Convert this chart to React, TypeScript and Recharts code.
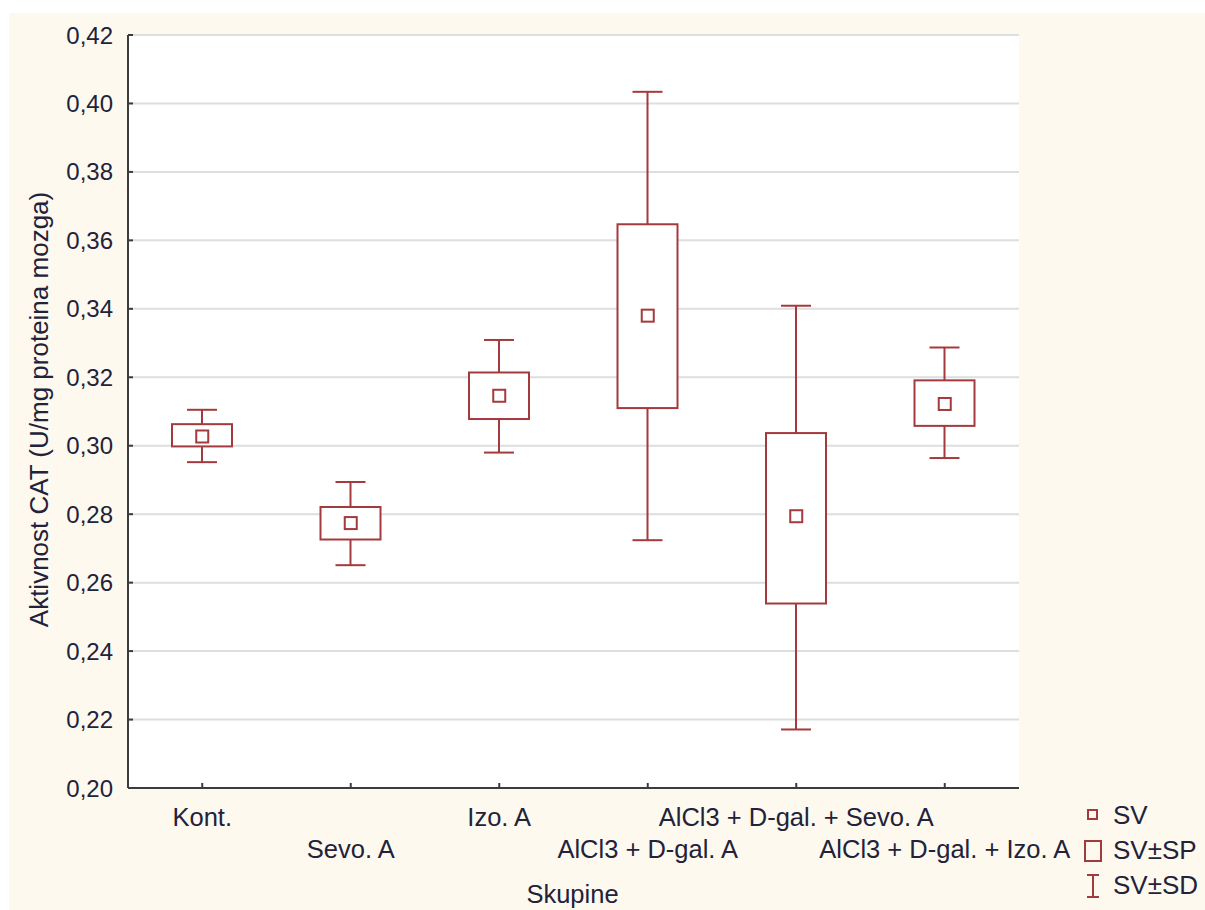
import { ComposedChart, Bar, Line, XAxis, YAxis, CartesianGrid } from "recharts";

const groups = [
  "Kont.",
  "Sevo. A",
  "Izo. A",
  "AlCl3 + D-gal. A",
  "AlCl3 + D-gal. + Sevo. A",
  "AlCl3 + D-gal. + Izo. A",
];
const means = [0.3027, 0.2774, 0.3146, 0.338, 0.2794, 0.3122];
const seLow = [0.2998, 0.2726, 0.3078, 0.311, 0.2539, 0.3058];
const seHigh = [0.3063, 0.2821, 0.3214, 0.3647, 0.3037, 0.3191];
const sdLow = [0.2952, 0.2651, 0.298, 0.2724, 0.2171, 0.2964];
const sdHigh = [0.3105, 0.2894, 0.3309, 0.4034, 0.3409, 0.3287];
const yTicks = [0.2, 0.22, 0.24, 0.26, 0.28, 0.3, 0.32, 0.34, 0.36, 0.38, 0.4, 0.42];

const data = groups.map((name, i) => ({
  name,
  mean: means[i],
  se: [seLow[i], seHigh[i]],
  sd: [sdLow[i], sdHigh[i]],
}));

const RED = "#a33a3d";
const AXIS = "#3c3c3c";
const TEXT = "#22223a";
const FONT = "'Liberation Sans', Arial, sans-serif";

const YTick = ({ x, y, payload }: any) => (
  <g>
    <line x1={x} x2={x + 5} y1={y} y2={y} stroke={AXIS} strokeWidth={2} />
    <text x={x - 15} y={y} textAnchor="end" dominantBaseline="central" fontSize={24} fill={TEXT} fontFamily={FONT}>
      {payload.value.toFixed(2).replace(".", ",")}
    </text>
  </g>
);

const XTick = ({ x, y, payload, index }: any) => (
  <g>
    <line x1={x} x2={x} y1={y} y2={y - 5} stroke={AXIS} strokeWidth={2} />
    <text x={x} y={y + (index % 2 === 0 ? 38 : 70)} textAnchor="middle" fontSize={25.5} fill={TEXT} fontFamily={FONT}>
      {payload.value}
    </text>
  </g>
);

const TopTick = ({ x, y }: any) => <line x1={x} x2={x} y1={y} y2={y + 5} stroke={AXIS} strokeWidth={2} />;

const Whisker = ({ x, y, width, height }: any) => {
  const cx = x + width / 2;
  return (
    <g stroke={RED} strokeWidth={2}>
      <line x1={cx} x2={cx} y1={y} y2={y + height} />
      <line x1={x} x2={x + width} y1={y} y2={y} />
      <line x1={x} x2={x + width} y1={y + height} y2={y + height} />
    </g>
  );
};

const Box = ({ x, y, width, height }: any) => (
  <rect x={x} y={y} width={width} height={height} fill="#fff" stroke={RED} strokeWidth={2} />
);

const MeanDot = ({ cx, cy, index }: any) => (
  <rect key={index} x={cx - 6} y={cy - 6} width={12} height={12} fill="#fff" stroke={RED} strokeWidth={2} />
);

const YLabel = ({ viewBox }: any) => {
  const cx = 30;
  const cy = viewBox.y + viewBox.height / 2 - 2;
  return (
    <text
      x={cx}
      y={cy}
      transform={`rotate(-90, ${cx}, ${cy})`}
      textAnchor="middle"
      dominantBaseline="central"
      fontSize={26}
      fill={TEXT}
      fontFamily={FONT}
    >
      Aktivnost CAT (U/mg proteina mozga)
    </text>
  );
};

export default function App() {
  return (
    <div style={{ position: "absolute", left: 0, top: 0, width: 1205, height: 910, background: "#fff" }}>
      <div style={{ position: "absolute", left: 9, top: 13, width: 1196, height: 897, background: "#fdf9ef" }}>
        <ComposedChart width={1196} height={897} data={data} margin={{ top: 22, right: 186, bottom: 92, left: 49 }}>
          <CartesianGrid xAxisId="main" vertical={false} stroke="#dedede" strokeWidth={2} fill="#fff" />
          <XAxis
            xAxisId="main"
            dataKey="name"
            interval={0}
            height={30}
            tickSize={0}
            tickMargin={0}
            tickLine={false}
            axisLine={{ stroke: AXIS, strokeWidth: 2 }}
            tick={<XTick />}
          />
          <XAxis xAxisId="whisk" dataKey="name" hide />
          <XAxis
            xAxisId="top"
            dataKey="name"
            orientation="top"
            height={0}
            interval={0}
            tickSize={0}
            tickMargin={0}
            tickLine={false}
            axisLine={{ stroke: AXIS, strokeWidth: 2 }}
            tick={<TopTick />}
          />
          <YAxis
            domain={[0.2, 0.42]}
            ticks={yTicks}
            width={70}
            tickSize={0}
            tickMargin={0}
            tickLine={false}
            axisLine={{ stroke: AXIS, strokeWidth: 2 }}
            tick={<YTick />}
            label={{ content: <YLabel /> }}
          />
          <YAxis
            yAxisId="right"
            orientation="right"
            domain={[0.2, 0.42]}
            width={0}
            tick={false}
            tickLine={false}
            axisLine={{ stroke: AXIS, strokeWidth: 2 }}
          />
          <Bar xAxisId="whisk" dataKey="sd" barSize={30} shape={<Whisker />} isAnimationActive={false} />
          <Bar xAxisId="main" dataKey="se" barSize={60} shape={<Box />} isAnimationActive={false} />
          <Line
            xAxisId="main"
            dataKey="mean"
            stroke="none"
            dot={<MeanDot />}
            activeDot={false}
            isAnimationActive={false}
          />
        </ComposedChart>
        <div style={{ position: "absolute", left: 1070, top: 785, fontFamily: FONT, fontSize: 26, color: TEXT }}>
          <div style={{ display: "flex", alignItems: "center", height: 35 }}>
            <svg width={30} height={30}>
              <rect x={9} y={9} width={9} height={9} fill="none" stroke={RED} strokeWidth={2} />
            </svg>
            <span style={{ marginLeft: 4 }}>SV</span>
          </div>
          <div style={{ display: "flex", alignItems: "center", height: 35 }}>
            <svg width={30} height={30}>
              <rect x={6} y={5} width={16} height={20} fill="none" stroke={RED} strokeWidth={2} />
            </svg>
            <span style={{ marginLeft: 4 }}>SV±SP</span>
          </div>
          <div style={{ display: "flex", alignItems: "center", height: 35 }}>
            <svg width={30} height={30}>
              <g stroke={RED} strokeWidth={2}>
                <line x1={14} x2={14} y1={4} y2={26} />
                <line x1={8} x2={20} y1={4} y2={4} />
                <line x1={8} x2={20} y1={26} y2={26} />
              </g>
            </svg>
            <span style={{ marginLeft: 4 }}>SV±SD</span>
          </div>
        </div>
        <div
          style={{
            position: "absolute",
            left: 118,
            width: 891,
            top: 867,
            textAlign: "center",
            fontFamily: FONT,
            fontSize: 25.5,
            color: TEXT,
          }}
        >
          Skupine
        </div>
      </div>
    </div>
  );
}
